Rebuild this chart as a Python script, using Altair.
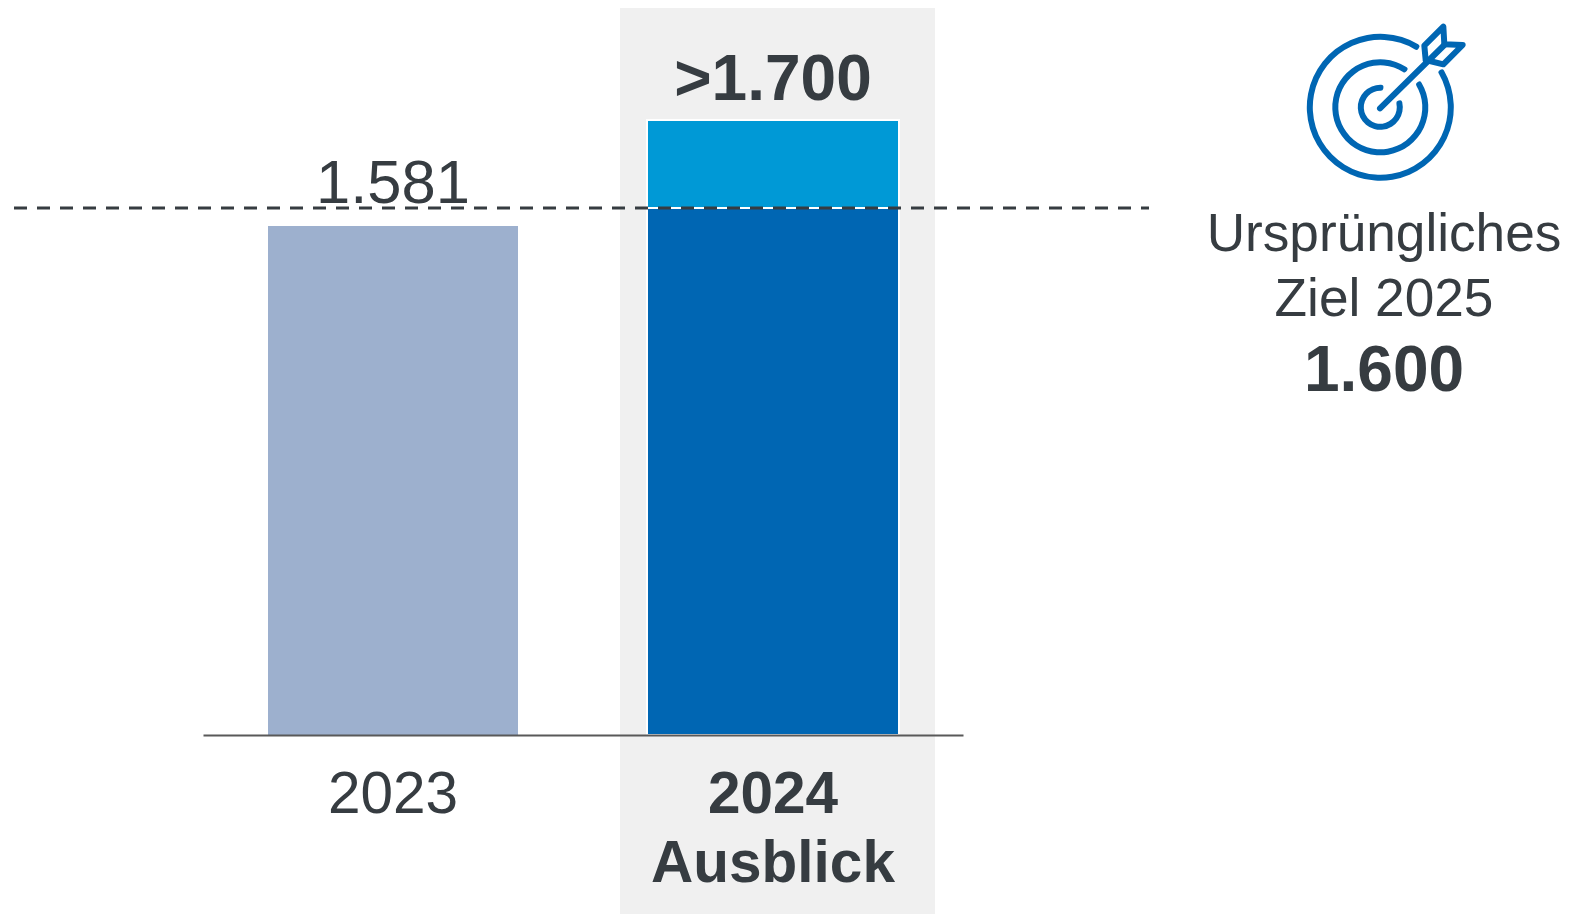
import math
import altair as alt
import pandas as pd

# The source chart is not drawn to scale, so bar heights are the heights read from
# the picture (in axis units), and the printed labels are kept separately.
categories = ["2023", "2024"]
bar_base = [0, 0]
bar_top = [1407, 1457]
upside_base = [1457]
upside_top = [1700]
target_level = [1457]
label_cats = ["2023", "2024"]
label_tops = [1407, 1700]
label_texts = ["1.581", ">1.700"]

TEXT = "#363C41"
FONT = "Liberation Sans"
OX, OY = 203, 8  # page position of the plot origin


def px(v):
    return v - OX


def py(v):
    return v - OY


x_scale = alt.Scale(domain=categories, paddingInner=0.342, paddingOuter=0.171)
y_scale = alt.Scale(domain=[0, 2010])
x_axis = alt.X(
    "cat:N",
    scale=x_scale,
    title=None,
    axis=alt.Axis(
        labelAngle=0,
        ticks=False,
        domainColor="#595959",
        domainWidth=2,
        labelFont=FONT,
        labelFontSize=58.5,
        labelColor=TEXT,
        labelPadding=31,
        labelLineHeight=69,
        labelLimit=0,
        labelExpr="datum.value == '2024' ? ['2024', 'Ausblick'] : datum.value",
        labelFontWeight={"condition": {"test": "datum.value == '2024'", "value": "bold"}, "value": "normal"},
        zindex=1,
    ),
)
x_enc = alt.X("cat:N", scale=x_scale, title=None, axis=None)
y_enc = alt.Y("top:Q", scale=y_scale, axis=None)

band = alt.Chart(pd.DataFrame({"k": [1]})).mark_rect(color="#F0F0F0").encode(
    x=alt.value(px(620)), x2=alt.value(px(935)), y=alt.value(0), y2=alt.value(py(914))
)

bars_df = pd.DataFrame({"cat": categories, "base": bar_base, "top": bar_top})
bar_2023 = alt.Chart(bars_df).transform_filter("datum.cat == '2023'").mark_bar(size=250, color="#9DB0CE").encode(
    x=x_axis, y=y_enc, y2="base:Q"
)
bar_2024 = alt.Chart(bars_df).transform_filter("datum.cat == '2024'").mark_bar(
    size=252, color="#0066B3", stroke="white", strokeWidth=2
).encode(x=x_enc, y=y_enc, y2="base:Q")
upside = alt.Chart(pd.DataFrame({"cat": ["2024"], "base": upside_base, "top": upside_top})).mark_bar(
    size=252, color="#0099D6", stroke="white", strokeWidth=2
).encode(x=x_enc, y=y_enc, y2="base:Q")

target_rule = alt.Chart(pd.DataFrame({"top": target_level})).mark_rule(
    color="#363C41", strokeWidth=3, strokeDash=[13, 10]
).encode(y=y_enc, x=alt.value(px(14)), x2=alt.value(px(1149)))

labels_df = pd.DataFrame({"cat": label_cats, "top": label_tops, "txt": label_texts})
label_2023 = alt.Chart(labels_df).transform_filter("datum.cat == '2023'").mark_text(
    font=FONT, fontSize=61.5, color=TEXT, baseline="alphabetic", dy=-23
).encode(x=x_enc, y=y_enc, text="txt:N")
label_2024 = alt.Chart(labels_df).transform_filter("datum.cat == '2024'").mark_text(
    font=FONT, fontSize=64, fontWeight="bold", color=TEXT, baseline="alphabetic", dy=-20
).encode(x=x_enc, y=y_enc, text="txt:N")


def side_text(txt, page_y, size, weight="normal"):
    return alt.Chart(pd.DataFrame({"t": [txt]})).mark_text(
        font=FONT, fontSize=size, fontWeight=weight, color=TEXT, baseline="alphabetic", align="center"
    ).encode(x=alt.value(px(1384)), y=alt.value(py(page_y)), text="t:N")


side = [
    side_text("Ursprüngliches", 251, 53.2),
    side_text("Ziel 2025", 316, 53.2),
    side_text("1.600", 391, 64, "bold"),
]

# Target icon
ICON = "#0066B3"
CX, CY = 1380.3, 107.3
rings = [(70.5, 58, 393), (45, 56, 396), (19.5, 70, 369)]
arcs = []
for r, a0, a1 in rings:
    arcs.append(
        alt.Chart(pd.DataFrame({"k": [1]})).mark_arc(
            color=ICON,
            radius=r + 3,
            radius2=r - 3,
            theta=math.radians(a0),
            theta2=math.radians(a1),
            cornerRadius=2.5,
        ).encode(x=alt.value(px(CX)), y=alt.value(py(CY)))
    )


def poly(zoom_xy):
    df = pd.DataFrame(
        {
            "i": range(len(zoom_xy)),
            "x": [px(1290 + p[0] / 3) for p in zoom_xy],
            "y": [py(15 + p[1] / 3) for p in zoom_xy],
        }
    )
    return alt.Chart(df).mark_line(
        color=ICON, strokeWidth=6, strokeCap="round", strokeJoin="round"
    ).encode(
        x=alt.X("x:Q", scale=None, axis=None),
        y=alt.Y("y:Q", scale=None, axis=None),
        order="i:Q",
    )


shaft = poly([(270, 280), (463, 90)])
fletch = poly([(407, 135), (403, 92), (460, 35), (463, 88), (518, 90), (460, 148), (407, 135)])

chart = alt.layer(
    band, bar_2023, bar_2024, upside, target_rule, label_2023, label_2024, *side, *arcs, shaft, fletch
).resolve_scale(x="independent", y="independent").properties(
    width=760,
    height=727,
    padding={"left": 195, "top": 0, "right": 604, "bottom": 179},
    autosize=alt.AutoSizeParams(type="none"),
    background="white",
).configure_view(stroke=None)

chart.save("out.html", embed_options={"renderer": "svg", "actions": False})
